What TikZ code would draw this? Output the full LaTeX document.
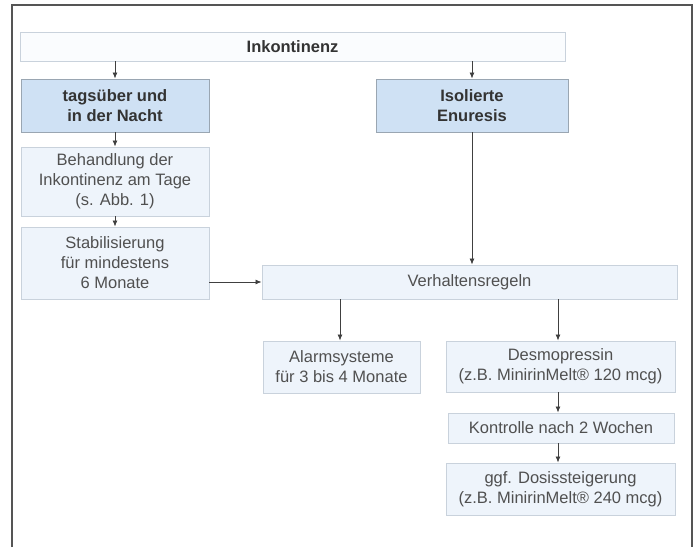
\documentclass[tikz,border=0pt]{standalone}
\usepackage{fontspec}
\setmainfont{Liberation Sans}
\usetikzlibrary{arrows.meta}
\definecolor{frame}{HTML}{555555}
\definecolor{bordc}{HTML}{C9D2DC}
\definecolor{bordd}{HTML}{9AA6B2}
\definecolor{filll}{HTML}{EEF4FB}
\definecolor{filld}{HTML}{CFE1F4}
\definecolor{fillw}{HTML}{FAFCFE}
\definecolor{txtn}{HTML}{505050}
\definecolor{txtb}{HTML}{333333}
\definecolor{arrc}{HTML}{404040}
\tikzset{
  x=1pt, y=-1pt,
  lbox/.style={draw=bordc, fill=filll, line width=0.9pt, align=center, inner sep=0pt,
    text=txtn, font=\fontsize{16.5}{20}\selectfont},
  dbox/.style={draw=bordd, fill=filld, line width=0.9pt, align=center, inner sep=0pt,
    text=txtb, font=\fontsize{16.5}{20}\selectfont\bfseries},
  wbox/.style={draw=bordc, fill=fillw, line width=0.9pt, align=center, inner sep=0pt,
    text=txtb, font=\fontsize{16.5}{20}\selectfont\bfseries},
  arr/.style={draw=arrc, line width=0.8pt, -{Latex[length=6pt,width=5pt]}},
}
\begin{document}
\begin{tikzpicture}
\useasboundingbox (0,0) rectangle (697,547);
\draw[frame, line width=1.2pt] (12,547) -- (12,5) -- (692,5) -- (692,547);

\node[wbox, minimum width=545pt, minimum height=29pt] (ink) at (292.5,46.5) {Inkontinenz};
\node[dbox, minimum width=188pt, minimum height=53pt] (tag) at (115,105.5) {tagsüber und\\in der Nacht};
\node[dbox, minimum width=192pt, minimum height=53pt] (iso) at (472,105.5) {Isolierte\\Enuresis};
\node[lbox, minimum width=188pt, minimum height=69pt] (beh) at (115,181.5) {Behandlung der\\Inkontinenz am Tage\\(s. Abb. 1)};
\node[lbox, minimum width=188pt, minimum height=72pt] (stab) at (115,263) {Stabilisierung\\für mindestens\\6 Monate};
\node[lbox, minimum width=415pt, minimum height=34pt] (verh) at (469.5,282) {Verhaltensregeln};
\node[lbox, minimum width=157pt, minimum height=52pt] (alarm) at (341.5,367) {Alarmsysteme\\für 3 bis 4 Monate};
\node[lbox, minimum width=229pt, minimum height=51pt] (desmo) at (560.5,366.5) {Desmopressin\\(z.B. MinirinMelt® 120 mcg)};
\node[lbox, minimum width=226pt, minimum height=30pt] (kon) at (561,428) {Kontrolle nach 2 Wochen};
\node[lbox, minimum width=229pt, minimum height=52pt] (ggf) at (560.5,489) {ggf. Dosissteigerung\\(z.B. MinirinMelt® 240 mcg)};

\draw[arr] (ink.south -| tag.north) -- (tag.north);
\draw[arr] (ink.south -| iso.north) -- (iso.north);
\draw[arr] (tag.south) -- (beh.north);
\draw[arr] (beh.south) -- (stab.north);
\draw[arr] (verh.west -| stab.east) -- (verh.west);
\draw[arr] (iso.south) -- (iso.south |- verh.north);
\coordinate (va) at (340,299);
\coordinate (vd) at (558,299);
\draw[arr] (va) -- (va |- alarm.north);
\draw[arr] (vd) -- (vd |- desmo.north);
\draw[arr] (desmo.south -| vd) -- (vd |- kon.north);
\draw[arr] (kon.south -| vd) -- (vd |- ggf.north);
\end{tikzpicture}
\end{document}
